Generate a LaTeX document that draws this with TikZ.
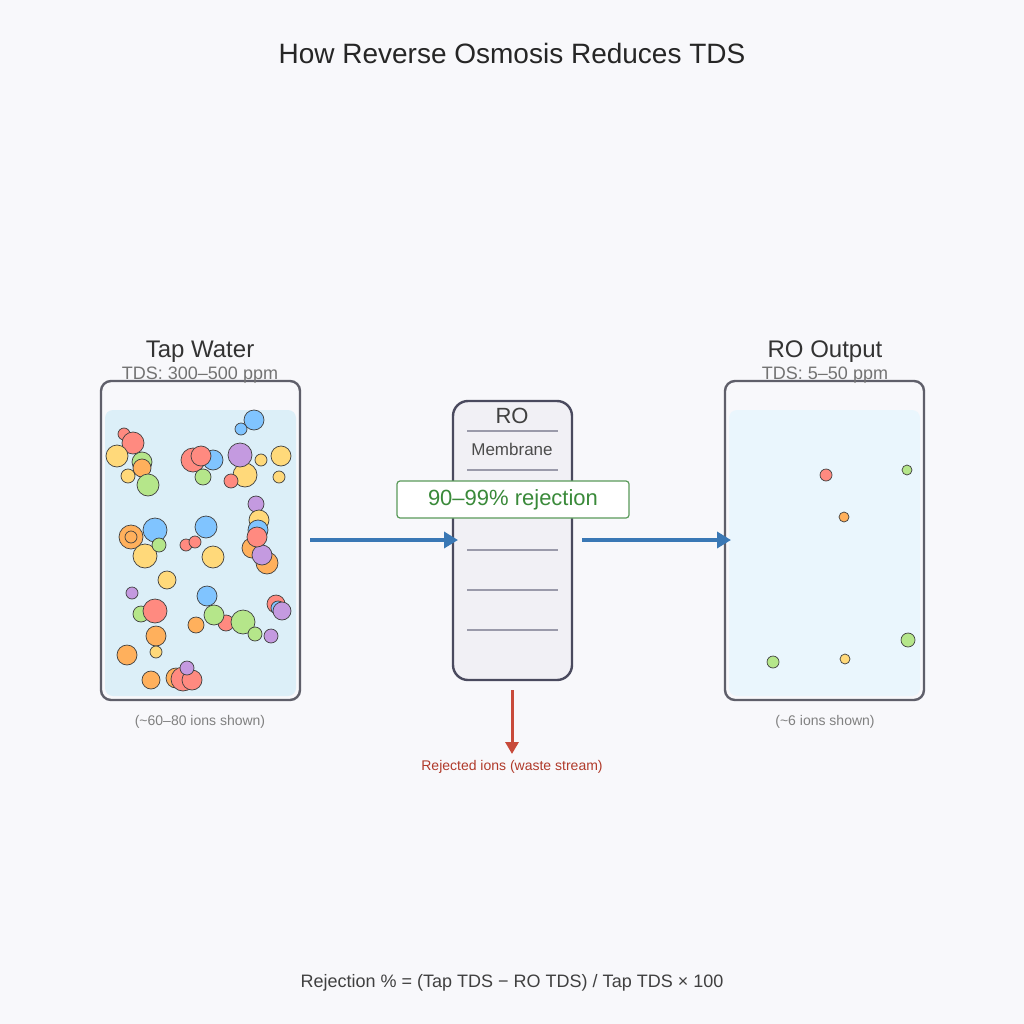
\documentclass[tikz,border=0pt]{standalone}
\usepackage{fontspec}
\setmainfont{Liberation Sans}
\usetikzlibrary{arrows.meta}
\definecolor{bg}{HTML}{F8F8FB}
\definecolor{cR}{HTML}{FF8A80}\definecolor{cY}{HTML}{FFD97A}\definecolor{cG}{HTML}{B5E68A}
\definecolor{cO}{HTML}{FFB05C}\definecolor{cB}{HTML}{80C4FF}\definecolor{cP}{HTML}{C49AE0}
\definecolor{frame}{HTML}{5F5F6A}\definecolor{arr}{HTML}{3A78B5}
\definecolor{wl}{HTML}{DCEFF8}\definecolor{wr}{HTML}{EAF6FD}
\definecolor{rofill}{HTML}{F1F0F5}\definecolor{rodraw}{HTML}{4A4A5E}\definecolor{sepc}{HTML}{9A9AAA}
\definecolor{gdraw}{HTML}{5A9A5A}\definecolor{gtext}{HTML}{3A8A3A}
\definecolor{rarr}{HTML}{C84A3A}\definecolor{rtext}{HTML}{B03A2A}
\tikzset{ion/.style={draw=black!75,line width=0.7pt},
 glass/.style={draw=frame,line width=2.4pt,rounded corners=10pt},
 flow/.style={draw=arr,line width=4pt,-{Triangle[length=14pt,width=16pt]}}}
\begin{document}
\begin{tikzpicture}[x=1pt,y=-1pt]
\fill[bg] (0,0) rectangle (1024,1024);
\useasboundingbox (0,0) rectangle (1024,1024);
\node (title) at (512,53) {\fontsize{28}{30}\selectfont\color{black!85}How Reverse Osmosis Reduces TDS};
% left glass
\fill[wl,rounded corners=8pt] (105,410) rectangle (296,696);
\foreach \c/\x/\y/\r in {cR/124/434/6,cR/133/443/11,cY/117/456/11,cG/142/462/10,cO/142/468/9,cY/128/476/7,cG/148/485/11,
 cR/193/460/12,cB/213/460/10,cR/201/456/10,cG/203/477/8,cB/241/429/6,cB/254/420/10,cY/245/475/12,cR/231/481/7,cP/240/455/12,
 cY/261/460/6,cY/281/456/10,cY/279/477/6,cP/256/504/8,cY/259/520/10,cB/258/530/10,cO/267/563/11,cO/252/548/10,cP/262/555/10,cR/257/537/10,
 cO/131/537/12,cB/155/530/12,cY/145/556/12,cG/159/545/7,cR/186/545/6,cR/195/542/6,cB/206/527/11,cY/213/557/11,cY/167/580/9,cP/132/593/6,
 cG/141/614/8,cR/155/611/12,cB/207/596/10,cR/226/623/8,cG/214/615/10,cG/243/622/12,cG/255/634/7,cP/271/636/7,cO/196/625/8,
 cR/276/604/9,cB/278/608/7,cP/282/611/9,cO/156/636/10,cY/156/652/6,cO/127/655/10,cO/151/680/9,cO/176/678/10,cR/183/679/12,cR/192/680/10,cP/187/668/7}
 {\fill[\c,ion] (\x,\y) circle (\r);}
\draw[ion] (131,537) circle (6);
\draw[glass] (101,381) rectangle (300,700);
\node (tapt) at (200,352) {\fontsize{24}{26}\selectfont\color{black!80}Tap Water};
\node (taps) at (200,375) {\fontsize{18}{20}\selectfont\color{black!55}TDS: 300–500 ppm};
\node (tapc) at (200,722) {\fontsize{14}{16}\selectfont\color{black!50}(\textasciitilde60–80 ions shown)};
% right glass
\fill[wr,rounded corners=8pt] (729,410) rectangle (920,696);
\foreach \c/\x/\y/\r in {cR/826/475/6,cG/907/470/5,cO/844/517/5,cG/908/640/7,cG/773/662/6,cY/845/659/5}
 {\fill[\c,ion] (\x,\y) circle (\r);}
\draw[glass] (725,381) rectangle (924,700);
\node (rot) at (825,352) {\fontsize{24}{26}\selectfont\color{black!80}RO Output};
\node (ros) at (825,375) {\fontsize{18}{20}\selectfont\color{black!55}TDS: 5–50 ppm};
\node (roc) at (825,722) {\fontsize{14}{16}\selectfont\color{black!50}(\textasciitilde6 ions shown)};
% RO
\draw[fill=rofill,draw=rodraw,line width=2.4pt,rounded corners=15pt] (453,401) rectangle (572,680);
\coordinate (roin) at (458,540);
\node (rolabel) at (512,416) {\fontsize{22}{24}\selectfont\color{black!75}RO};
\node (mem) at (512,449) {\fontsize{17}{19}\selectfont\color{black!70}Membrane};
\foreach \y in {431,470,550,590,630} \draw[draw=sepc,line width=1.3pt] (467,\y) -- (558,\y);
\node[draw=gdraw,fill=white,line width=1.2pt,rounded corners=3pt,minimum width=232pt,minimum height=37pt] (rej) at (513,499.5) {\fontsize{22}{24}\selectfont\color{gtext}90–99\% rejection};
% arrows
\coordinate (a1) at (310,540); \coordinate (a2) at (582,540); \coordinate (a3) at (731,540);
\draw[flow] (a1) -- (roin);
\draw[flow] (a2) -- (a3);
\coordinate (w1) at (512,690); \coordinate (w2) at (512,754);
\draw[draw=rarr,line width=3pt,-{Triangle[length=12pt,width=13pt]}] (w1) -- (w2);
\node (waste) at (512,767) {\fontsize{14}{16}\selectfont\color{rtext}Rejected ions (waste stream)};
\node (formula) at (512,983) {\fontsize{18}{20}\selectfont\color{black!75}Rejection \% = (Tap TDS − RO TDS) / Tap TDS × 100};
\end{tikzpicture}
\end{document}
